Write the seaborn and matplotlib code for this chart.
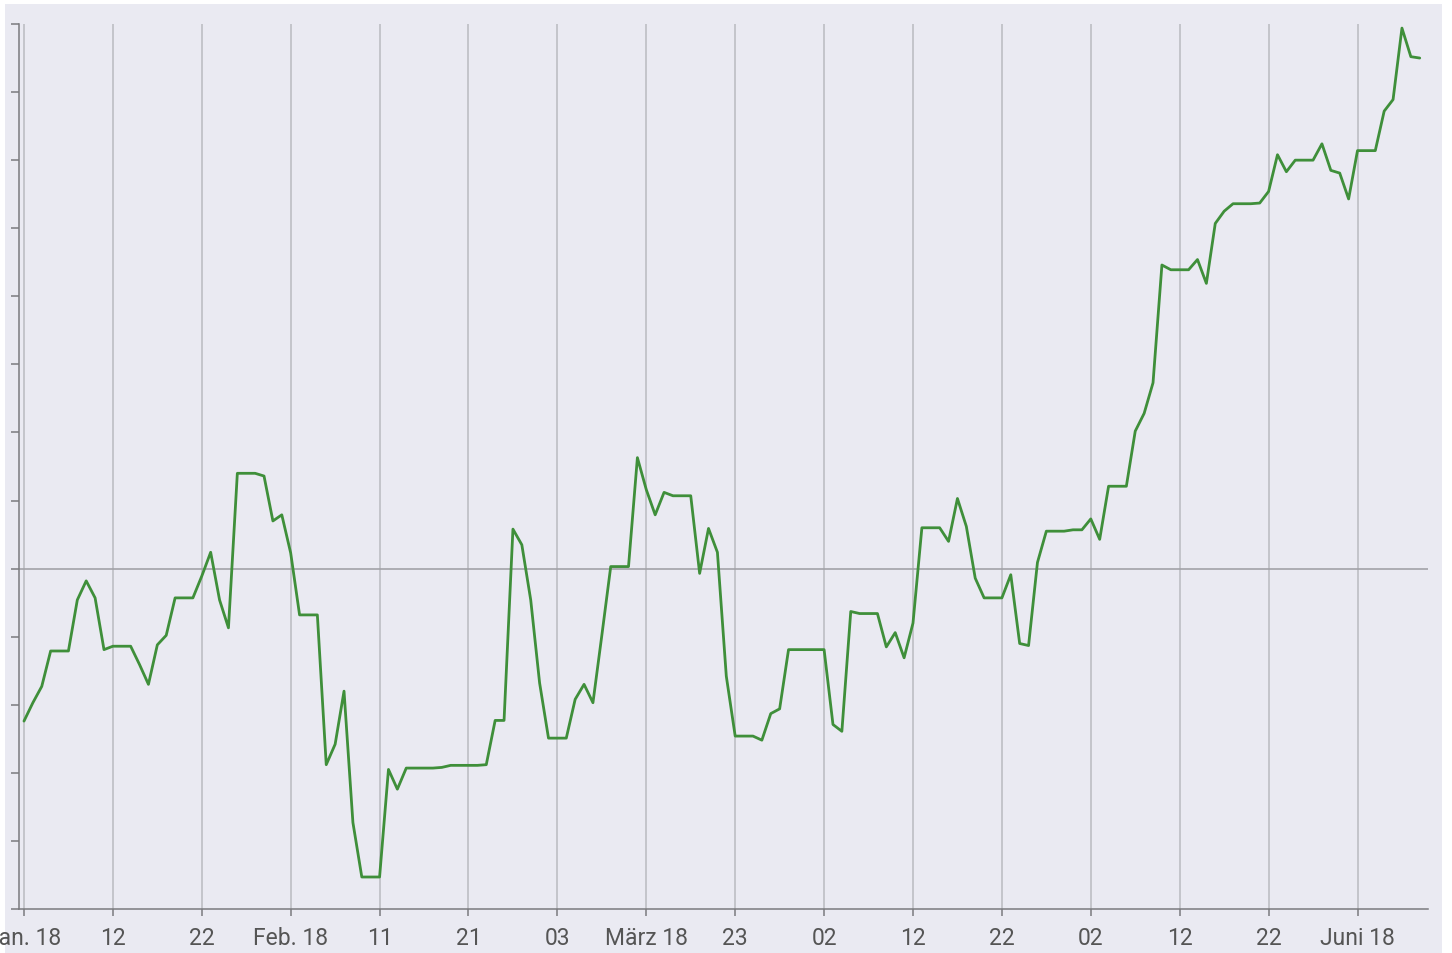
#!/usr/bin/env python
# coding: utf-8

#import the necessary libraries
import pandas as pd
import matplotlib.pyplot as plt
import seaborn as sns
from matplotlib import font_manager
from matplotlib.patches import Rectangle

#daily values from 2 Jan 2018 (weekends/holidays carry the last value)
start_date = '2018-01-02'
values = [
    -2.24, -1.97, -1.73, -1.21, -1.21, -1.21,               # Jan 2 - Jan 7
    -0.46, -0.18, -0.43, -1.19, -1.14, -1.14, -1.14,        # Jan 8 - 14
    -1.41, -1.70, -1.12, -0.98, -0.43, -0.43, -0.43,        # Jan 15 - 21
    -0.11, 0.24, -0.46, -0.87, 1.40, 1.40, 1.40,            # Jan 22 - 28
    1.36, 0.70, 0.79, 0.23, -0.68, -0.68, -0.68,            # Jan 29 - Feb 4
    -2.88, -2.58, -1.80, -3.73, -4.53, -4.53, -4.53,        # Feb 5 - 11
    -2.95, -3.24, -2.93, -2.93, -2.93, -2.93, -2.92,        # Feb 12 - 18
    -2.89, -2.89, -2.89, -2.89, -2.88, -2.23, -2.23,        # Feb 19 - 25
    0.58, 0.35, -0.46, -1.68, -2.49, -2.49, -2.49,          # Feb 26 - Mar 4
    -1.92, -1.70, -1.97, -0.98, 0.03, 0.03, 0.03,           # Mar 5 - 11
    1.63, 1.16, 0.79, 1.12, 1.07, 1.07, 1.07,               # Mar 12 - 18
    -0.07, 0.59, 0.24, -1.58, -2.46, -2.46, -2.46,          # Mar 19 - 25
    -2.52, -2.13, -2.06, -1.19, -1.19, -1.19, -1.19,        # Mar 26 - Apr 1
    -1.19, -2.29, -2.39, -0.63, -0.66, -0.66, -0.66,        # Apr 2 - 8
    -1.15, -0.94, -1.31, -0.80, 0.60, 0.60, 0.60,           # Apr 9 - 15
    0.40, 1.03, 0.62, -0.14, -0.43, -0.43, -0.43,           # Apr 16 - 22
    -0.09, -1.10, -1.13, 0.09, 0.55, 0.55, 0.55,            # Apr 23 - 29
    0.57, 0.57, 0.73, 0.43, 1.21, 1.21, 1.21,               # Apr 30 - May 6
    2.02, 2.28, 2.73, 4.46, 4.39, 4.39, 4.39,               # May 7 - 13
    4.54, 4.19, 5.07, 5.25, 5.36, 5.36, 5.36,               # May 14 - 20
    5.37, 5.54, 6.08, 5.83, 6.00, 6.00, 6.00,               # May 21 - 27
    6.24, 5.85, 5.81, 5.43, 6.14, 6.14, 6.14,               # May 28 - Jun 3
    6.72, 6.89, 7.94, 7.52, 7.50,                           # Jun 4 - 8
]

#x ticks every 10 days, labels as shown on the chart
tick_labels = ['Jan. 18', '12', '22', 'Feb. 18', '11', '21', '03', 'März 18',
               '23', '02', '12', '22', '02', '12', '22', 'Juni 18']
y_ticks = list(range(-5, 9))

#set the style of the plot
sns.set_theme(style='darkgrid')
names = {f.name for f in font_manager.fontManager.ttflist}
font = 'Liberation Sans Narrow' if 'Liberation Sans Narrow' in names else 'Roboto'
plt.rcParams['font.family'] = [font, 'DejaVu Sans']

df = pd.DataFrame({'Datum': pd.date_range(start_date, periods=len(values), freq='D'),
                   'Wert': values})
tick_dates = pd.date_range(start_date, periods=len(tick_labels), freq='10D')

bg = '#eaeaf2'
fig = plt.figure(figsize=(14.52, 9.54), dpi=100, facecolor=bg)
ax = fig.add_axes([19/1452, 1 - 910/954, (1428 - 19)/1452, (910 - 25)/954])
ax.set_facecolor(bg)

sns.lineplot(data=df, x='Datum', y='Wert', color='#3f8f3a', linewidth=2.0, ax=ax)
ax.axhline(0, color='#a2a2a8', linewidth=1.2, zorder=1)

#axes limits and ticks
t0 = df['Datum'].iloc[0]
ax.set_xlim(t0 - pd.Timedelta(days=0.56), t0 + pd.Timedelta(days=157.93))
ax.set_ylim(-5, 8)
ax.set_xticks(tick_dates)
ax.set_xticklabels(tick_labels)
ax.set_yticks(y_ticks)
ax.set_yticklabels([])
ax.set_xlabel('')
ax.set_ylabel('')

ax.grid(axis='y', visible=False)
ax.grid(axis='x', color='#c3c4ca', linewidth=1.4)
for side in ['top', 'right']:
    ax.spines[side].set_visible(False)
for side in ['left', 'bottom']:
    ax.spines[side].set_visible(True)
    ax.spines[side].set_color('#7a7a7e')
    ax.spines[side].set_linewidth(1.1)
ax.tick_params(axis='y', direction='out', length=6, width=1.1, color='#7a7a7e', left=True)
ax.tick_params(axis='x', direction='out', length=5, width=1.1, color='#7a7a7e', bottom=True,
               labelsize=16.5, labelcolor='#555555', pad=7)

#thin white margins around the panel
fig.patches.append(Rectangle((0, 1 - 5/954), 1, 5/954, transform=fig.transFigure,
                             facecolor='white', edgecolor='none', zorder=-1))
fig.patches.append(Rectangle((1442/1452, 0), 10/1452, 1, transform=fig.transFigure,
                             facecolor='white', edgecolor='none', zorder=-1))
fig.patches.append(Rectangle((0, 0), 5/1452, 1, transform=fig.transFigure,
                             facecolor='white', edgecolor='none', zorder=-1))

fig.savefig('out.png', dpi=100, facecolor=bg)
